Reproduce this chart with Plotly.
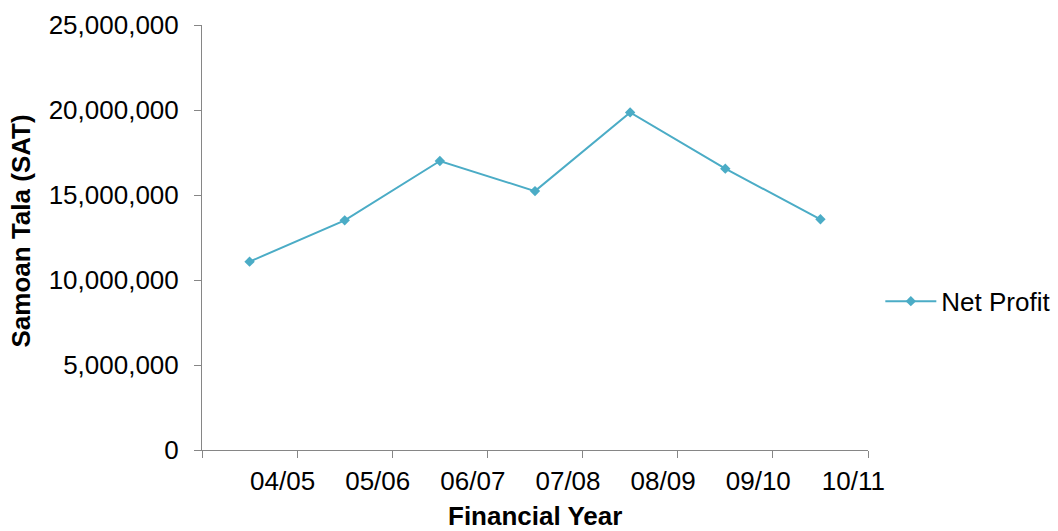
import plotly.graph_objects as go

years = ["04/05", "05/06", "06/07", "07/08", "08/09", "09/10", "10/11"]
net_profit = [11080000, 13510000, 17000000, 15230000, 19860000, 16550000, 13570000]
y_ticks = [0, 5000000, 10000000, 15000000, 20000000, 25000000]

FONT = "Liberation Sans, Arial, sans-serif"
AXIS = "#868686"
SERIES = "#4BACC6"

fig = go.Figure()
fig.add_trace(go.Scatter(
    x=years, y=net_profit, name="Net Profit", mode="lines+markers",
    line=dict(color=SERIES, width=2),
    marker=dict(symbol="diamond", size=8, color=SERIES),
))

fig.update_layout(
    width=1058, height=531,
    margin=dict(l=202, r=190, t=25, b=81, autoexpand=False),
    paper_bgcolor="white", plot_bgcolor="white",
    font=dict(family=FONT, size=26, color="black"),
    showlegend=True,
    legend=dict(x=1.0185, y=0.35, xanchor="left", yanchor="middle",
                itemwidth=51, font=dict(size=26), bgcolor="rgba(0,0,0,0)"),
    xaxis=dict(
        type="category", range=[-0.5, 6.5], tickson="boundaries",
        showline=True, linecolor=AXIS, linewidth=1,
        ticks="outside", ticklen=7, tickcolor=AXIS,
        showgrid=False, zeroline=False, automargin=False,
        ticklabelshift=33, ticklabelstandoff=8,
        tickfont=dict(size=26),
    ),
    yaxis=dict(
        range=[0, 25000000], tickvals=y_ticks, tickformat=",d",
        showline=True, linecolor=AXIS, linewidth=1,
        ticks="outside", ticklen=7, tickcolor=AXIS,
        showgrid=False, zeroline=False, automargin=False,
        tickfont=dict(size=26),
        ticklabelstandoff=10,
    ),
    annotations=[
        dict(
            text="<b>Samoan Tala (SAT)</b>", textangle=-90,
            xref="paper", yref="paper", x=-0.2703, y=0.5165,
            xanchor="center", yanchor="middle", showarrow=False,
            font=dict(size=26),
        ),
        dict(
            text="<b>Financial Year</b>",
            xref="paper", yref="paper", x=0.5, y=-0.1544,
            xanchor="center", yanchor="middle", showarrow=False,
            font=dict(size=26),
        ),
    ],
)

fig.write_html("out.html", config={"displayModeBar": False},
               post_script="document.body.style.margin='0';")
